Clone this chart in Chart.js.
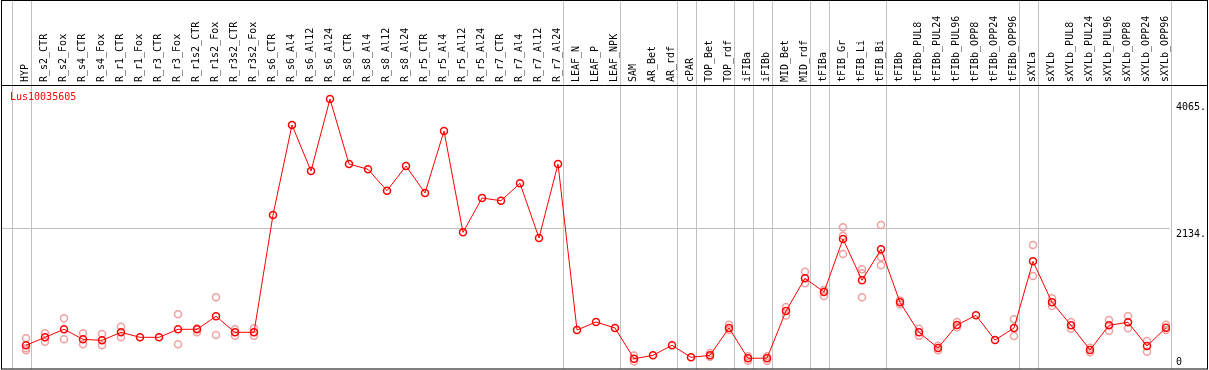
<!DOCTYPE html>
<html>
<head>
<meta charset="utf-8">
<script src="https://cdn.jsdelivr.net/npm/chart.js@4/dist/chart.umd.min.js"></script>
<style>
  html, body { margin: 0; padding: 0; background: #fff; }
  #wrap { width: 1209px; height: 370px; position: relative; }
</style>
</head>
<body>
<div id="wrap"><canvas id="expr"></canvas></div>
<script>
// Lus10035605 expression per sample (mean + visible replicates)
const samples = [
  "HYP", "R_s2_CTR", "R_s2_Fox", "R_s4_CTR", "R_s4_Fox", "R_r1_CTR", "R_r1_Fox",
  "R_r3_CTR", "R_r3_Fox", "R_r1s2_CTR", "R_r1s2_Fox", "R_r3s2_CTR", "R_r3s2_Fox",
  "R_s6_CTR", "R_s6_Al4", "R_s6_Al12", "R_s6_Al24", "R_s8_CTR", "R_s8_Al4", "R_s8_Al12",
  "R_s8_Al24", "R_r5_CTR", "R_r5_Al4", "R_r5_Al12", "R_r5_Al24", "R_r7_CTR", "R_r7_Al4",
  "R_r7_Al12", "R_r7_Al24", "LEAF_N", "LEAF_P", "LEAF_NPK", "SAM", "AR_Bet", "AR_rdf",
  "cPAR", "TOP_Bet", "TOP_rdf", "iFIBa", "iFIBb", "MID_Bet", "MID_rdf", "tFIBa",
  "tFIB_Gr", "tFIB_Li", "tFIB_Bi", "tFIBb", "tFIBb_PUL8", "tFIBb_PUL24", "tFIBb_PUL96",
  "tFIBb_OPP8", "tFIBb_OPP24", "tFIBb_OPP96", "sXYLa", "sXYLb", "sXYLb_PUL8",
  "sXYLb_PUL24", "sXYLb_PUL96", "sXYLb_OPP8", "sXYLb_OPP24", "sXYLb_OPP96"
]

const meanExpr = [
  346, 468, 590, 437, 422, 544, 468, 468, 590, 590, 788, 544, 544,
  2332, 3704, 3003, 4100, 3110, 3029, 2703, 3079, 2668, 3613, 2068, 2591, 2550, 2815, 1982, 3110,
  579, 701, 610, 142, 193, 346, 163, 193, 610, 148, 150, 869, 1367, 1159,
  1966, 1337, 1809, 1001, 544, 305, 655, 803, 427, 610,
  1626, 1001, 651, 275, 651, 697, 335, 614
]

const rep1 = [
  453, 529, 758, 529, 518, 630, null, null, 819, 605, 1078, 590, 605,
  null, null, null, null, null, null, null, null, null, null, null, null, null, null, null, null,
  null, null, null, 190, null, null, null, 230, 660, 180, 180, 930, 1468, 1098,
  2145, 1504, 2180, 1030, 600, 340, 700, null, null, 742,
  1875, 1062, 700, 310, 732, 793, 412, 660
]

const rep2 = [
  300, 401, 437, 361, 346, 468, null, null, 361, 544, 503, 492, 492,
  null, null, null, null, null, null, null, null, null, null, null, null, null, null, null, null,
  null, null, null, 100, null, null, null, 170, 580, 110, 110, 800, 1291, 1190,
  2017, 1444, 1687, 970, 490, 270, 620, null, null, 488,
  1402, 945, 600, 240, 569, 605, 249, 580
]

const rep3 = [
  270, null, null, null, null, null, null, null, null, null, null, null, null,
  null, null, null, null, null, null, null, null, null, null, null, null, null, null, null, null,
  null, null, null, null, null, null, null, null, null, null, null, null, null, null,
  1738, 1078, 1566, null, null, null, null, null, null, null,
  null, null, null, null, null, null, null, null
]

const yTicks = [0, 2134, 4065]
const yTickText = ["0", "2134.", "4065."]
// sample index after which a grey separator is drawn
const groupEnds = [-1, 0, 28, 31, 34, 35, 37, 38, 39, 41, 42, 45, 52, 53, 60]

const geneName = "Lus10035605"

const red  = "#ff0000"
const pink = "#f0a0a0"
const grey = "#c0c0c0"

Chart.defaults.font.family = "'DejaVu Sans Mono', monospace"
Chart.defaults.font.size = 10
Chart.defaults.color = "#000"

const toPts = arr => arr.map((v, i) => v == null ? null : { x: i, y: v }).filter(p => p)

function repSet(arr) {
  return {
    data: toPts(arr),
    showLine: false,
    pointRadius: 3.5,
    pointBorderWidth: 1.5,
    pointBorderColor: pink,
    pointBackgroundColor: "rgba(0,0,0,0)",
    order: 2
  }
}

// frame, separators and gene label
const framePlugin = {
  id: "frame",
  beforeDatasetsDraw(chart) {
    const ctx = chart.ctx
    const xs = chart.scales.x
    ctx.save()
    ctx.strokeStyle = grey
    ctx.lineWidth = 1
    groupEnds.forEach(i => {
      const px = Math.round(xs.getPixelForValue(i + 0.24)) + 0.5
      ctx.beginPath()
      ctx.moveTo(px, 0)
      ctx.lineTo(px, chart.height - 1)
      ctx.stroke()
    })
    ctx.restore()
  },
  afterDraw(chart) {
    const ctx = chart.ctx
    const top = chart.chartArea.top
    ctx.save()
    ctx.strokeStyle = "#000"
    ctx.lineWidth = 1
    ctx.strokeRect(1.5, 0.5, chart.width - 3, chart.height - 1.5)
    ctx.beginPath()
    ctx.moveTo(1, top + 0.5)
    ctx.lineTo(chart.width - 1, top + 0.5)
    ctx.stroke()
    ctx.fillStyle = red
    ctx.font = "10px 'DejaVu Sans Mono', monospace"
    ctx.textBaseline = "middle"
    ctx.fillText(geneName, 10, top + 12)
    ctx.restore()
  }
}

new Chart(document.getElementById("expr"), {
  type: "line",
  data: {
    datasets: [
      {
        data: toPts(meanExpr),
        borderColor: red,
        borderWidth: 1,
        tension: 0,
        pointRadius: 3.5,
        pointBorderWidth: 1.5,
        pointBorderColor: red,
        pointBackgroundColor: "rgba(0,0,0,0)",
        order: 1
      },
      repSet(rep1),
      repSet(rep2),
      repSet(rep3)
    ]
  },
  options: {
    responsive: true,
    maintainAspectRatio: false,
    animation: false,
    layout: { autoPadding: false, padding: { left: 2, right: 2, top: 0, bottom: 1 } },
    plugins: {
      legend: { display: false },
      tooltip: { enabled: false }
    },
    scales: {
      x: {
        type: "linear",
        position: "top",
        min: -24 / 19,
        max: 1144 / 19,
        afterBuildTicks: s => { s.ticks = samples.map((_, i) => ({ value: i })) },
        afterFit: s => {
          s.height = 85
          s.paddingLeft = 0
          s.paddingRight = 0
        },
        grid: { display: false, drawTicks: false },
        border: { display: false },
        ticks: {
          autoSkip: false,
          minRotation: 90,
          maxRotation: 90,
          padding: 3,
          labelOffset: 11,
          color: "#000",
          callback: v => samples[v]
        }
      },
      y: {
        type: "linear",
        position: "right",
        min: -15,
        max: 4314,
        afterBuildTicks: s => { s.ticks = yTicks.map(v => ({ value: v })) },
        afterFit: s => {
          s.width = 37
          s.paddingTop = 0
          s.paddingBottom = 0
        },
        grid: {
          drawTicks: false,
          color: c => c.tick && c.tick.value === 2134 ? grey : "rgba(0,0,0,0)"
        },
        border: { display: false },
        ticks: {
          padding: 6,
          color: "#000",
          // two-line labels push the text off the value line
          callback: v => {
            const t = yTickText[yTicks.indexOf(v)]
            return v === 0 ? [t, ""] : ["", t]
          }
        }
      }
    }
  },
  plugins: [framePlugin]
})
</script>
</body>
</html>
